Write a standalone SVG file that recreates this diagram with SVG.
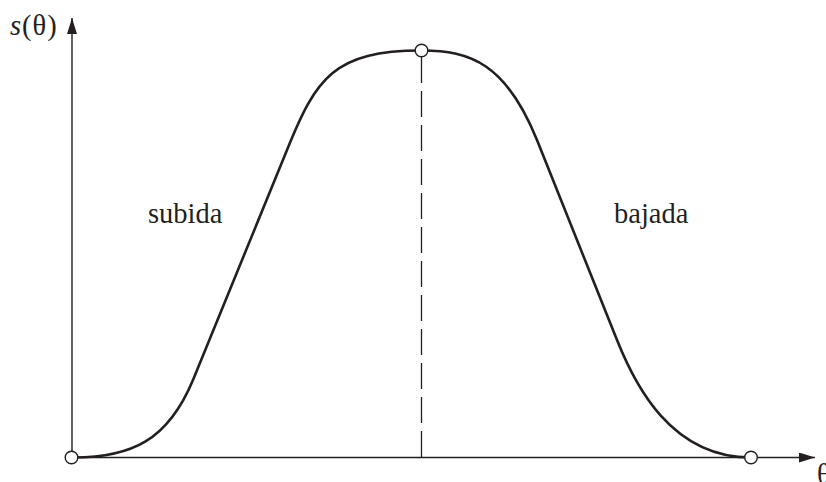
<svg xmlns="http://www.w3.org/2000/svg" width="826" height="482" viewBox="0 0 826 482">
<style>
.axis{stroke:#231f20;stroke-width:1.4;fill:none}
.curve{stroke:#231f20;stroke-width:2.6;fill:none;stroke-linejoin:round}
.dash{stroke:#231f20;stroke-width:1.3;stroke-dasharray:26 8;fill:none}
.pt{fill:#ffffff;stroke:#231f20;stroke-width:1.4}
.lbl{font-family:"Liberation Serif","Times New Roman",serif;font-size:28.5px;fill:#231f20}
</style>
<defs>
<marker id="ah" viewBox="0 0 16 10" refX="16" refY="5" markerWidth="16" markerHeight="10" markerUnits="userSpaceOnUse" orient="auto">
<path d="M0,0 L16,5 L0,10 Z" fill="#231f20"/>
</marker>
</defs>
<g id="axes">
<line class="axis" x1="72" y1="457.5" x2="72" y2="18" marker-end="url(#ah)"/>
<line class="axis" x1="72" y1="457.5" x2="815" y2="457.5" marker-end="url(#ah)"/>
</g>
<g id="connectors">
<line class="dash" x1="421.5" y1="57" x2="421.5" y2="457.5"/>
<path class="curve" d="M71.5,457.5 C132,458 168,440 193,380 L287,150 C316,78 334,50.5 421.5,50.5 C471,50.5 506,64 537,140 L617,340 C635,385 671,457.5 751,457.5"/>
</g>
<g id="start"><circle class="pt" cx="71.5" cy="457.5" r="6.3"/></g>
<g id="peak"><circle class="pt" cx="421.5" cy="50.5" r="6.3"/></g>
<g id="end"><circle class="pt" cx="751" cy="457.5" r="6.3"/></g>
<g id="labels">
<text class="lbl" x="10" y="35" font-size="27" letter-spacing="1"><tspan font-style="italic">s</tspan>(θ)</text>
<text class="lbl" x="148" y="223">subida</text>
<text class="lbl" x="614" y="223">bajada</text>
<text class="lbl" x="817" y="484">θ</text>
</g>
</svg>
